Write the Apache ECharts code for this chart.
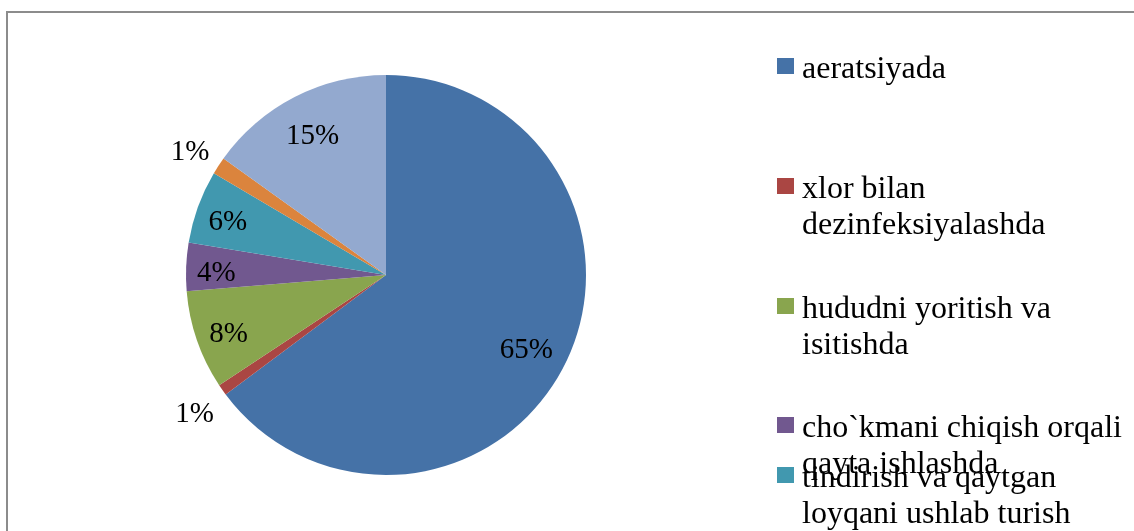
<!DOCTYPE html>
<html>
<head>
<meta charset="utf-8">
<script src="https://cdn.jsdelivr.net/npm/echarts@6/dist/echarts.min.js"></script>
<style>
  html, body { margin: 0; padding: 0; background: #fff; }
  #chart { width: 1134px; height: 531px; }
</style>
</head>
<body>
<div id="chart"></div>
<script>
// ---- data ----
const categories = [
  'aeratsiyada',
  'xlor bilan dezinfeksiyalashda',
  'hududni yoritish va isitishda',
  'cho`kmani chiqish orqali qayta ishlashda',
  'tindirish va qaytgan loyqani ushlab turish',
  'nasos stansiyalarida',
  'boshqa ehtiyojlarda'
];
const values = [64.8, 0.9, 8.0, 3.9, 5.9, 1.4, 15.1];
const colors = ['#4572A7', '#AA4643', '#89A54E', '#71588F', '#4198AF', '#DB843D', '#93A9CF'];
const legendCount = 5; // items visible in the reference (rest clipped)

// ---- layout ----
const CX = 386, CY = 275, R = 200;
const total = values.reduce((a, b) => a + b, 0);
const FONT = "'Liberation Serif', 'Times New Roman', serif";

function labelPos(i) {
  let before = 0;
  for (let k = 0; k < i; k++) before += values[k];
  const frac = (before + values[i] / 2) / total;
  const a = frac * 2 * Math.PI;
  const pct = values[i] / total * 100;
  const f = pct < 2 ? 1.17 : 0.785 + 0.08 * (1 - Math.min(pct, 20) / 20);
  return { x: CX + Math.sin(a) * R * f, y: CY - Math.cos(a) * R * f + 5 };
}

// square marker drawn in the upper 16px of a 24px-tall icon box,
// so the label text sits a little lower than the marker centre (as in the reference)
const ICON = 'path://M0,0L17,0L17,16L0,16Z M0,24L0,24';
const iconCenters = [66, 186, 306, 425, 475];
const legends = categories.slice(0, legendCount).map((name, i) => {
  const twoLine = i > 0;
  return {
    data: [name],
    left: 777,
    top: iconCenters[i] - (twoLine ? 50 : 14),
    orient: 'vertical',
    icon: ICON,
    itemWidth: 17,
    itemHeight: 24,
    padding: 0,
    selectedMode: false,
    formatter: n => (twoLine ? '\u00a0\n' : '') + n,
    textStyle: {
      fontFamily: FONT,
      fontSize: 32,
      lineHeight: 36,
      color: '#000',
      width: 340,
      overflow: 'break',
      padding: [0, 0, 0, 3]
    }
  };
});

const chart = echarts.init(document.getElementById('chart'), null, { renderer: 'canvas' });
chart.setOption({
  backgroundColor: '#ffffff',
  animation: false,
  color: colors,
  graphic: [{
    type: 'rect',
    z: -10,
    shape: { x: 7, y: 12, width: 1160, height: 560 },
    style: { fill: 'none', stroke: '#8c8c8c', lineWidth: 2 }
  }],
  legend: legends,
  series: [{
    type: 'pie',
    center: [CX, CY],
    radius: R,
    startAngle: 90,
    clockwise: true,
    avoidLabelOverlap: false,
    silent: true,
    itemStyle: { borderWidth: 0 },
    label: {
      show: true,
      position: 'inside',
      fontFamily: FONT,
      fontSize: 29,
      color: '#000',
      formatter: p => Math.round(p.value / total * 100) + '%'
    },
    labelLine: { show: false },
    labelLayout: p => Object.assign(labelPos(p.dataIndex), { align: 'center', verticalAlign: 'middle' }),
    emphasis: { disabled: true },
    data: categories.map((n, i) => ({ name: n, value: values[i] }))
  }]
});
</script>
</body>
</html>
